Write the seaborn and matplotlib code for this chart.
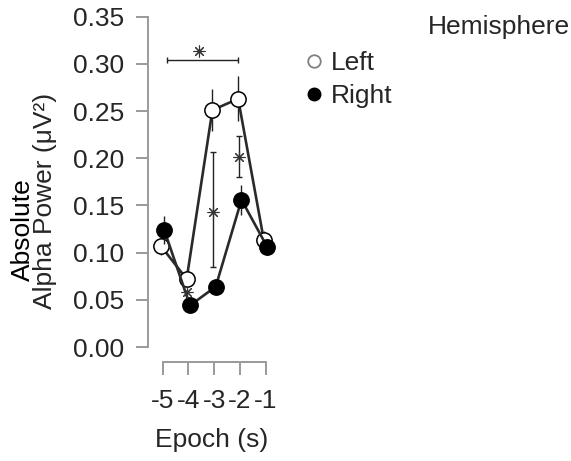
import matplotlib
matplotlib.use("Agg")
import matplotlib.pyplot as plt
from matplotlib.lines import Line2D
import numpy as np
import pandas as pd
import seaborn as sns

# Mean absolute alpha power per epoch and hemisphere, with standard errors
epochs = [-5, -4, -3, -2, -1]
tick_labels = ["-5", "-4", "-3", "-2", "-1"]
left_mean = [0.107, 0.072, 0.251, 0.263, 0.113]
left_err = [0.010, 0.008, 0.022, 0.024, 0.010]
right_mean = [0.124, 0.044, 0.064, 0.156, 0.106]
right_err = [0.015, 0.006, 0.006, 0.016, 0.008]
hemispheres = ["Left", "Right"]

# Significance annotations
h_bracket = (-4.84, -2.08, 0.304)          # x start, x end, y
h_star = (-3.6, 0.314)
v_brackets = [(-3.05, 0.085, 0.207), (-2.04, 0.180, 0.224)]   # x, y low, y high
v_stars = [(-3.05, 0.143), (-2.04, 0.201)]
lone_stars = [(-4.05, 0.058)]

yticks = [0.00, 0.05, 0.10, 0.15, 0.20, 0.25, 0.30, 0.35]

sns.set_theme(style="white")
plt.rcParams["font.family"] = ["Liberation Sans", "DejaVu Sans"]

FS = 19
AX_GRAY = "#9a9a9a"
TXT = "#262626"

df = pd.DataFrame({
    "epoch": epochs * 2,
    "power": left_mean + right_mean,
    "err": left_err + right_err,
    "Hemisphere": ["Left"] * len(epochs) + ["Right"] * len(epochs),
})
offsets = {"Left": -0.07, "Right": 0.06}
df["xpos"] = df["epoch"] + df["Hemisphere"].map(offsets)

fig = plt.figure(figsize=(5.71, 4.61), dpi=100)
ax = fig.add_axes([148 / 571, (461 - 347) / 461, 128 / 571, 330.3 / 461])

styles = {
    "Left": dict(markerfacecolor="white", markeredgecolor="black"),
    "Right": dict(markerfacecolor="black", markeredgecolor="black"),
}

for i, hemi in enumerate(hemispheres):
    sub = df[df["Hemisphere"] == hemi]
    ax.errorbar(sub["xpos"], sub["power"], yerr=sub["err"], fmt="none",
                ecolor="#222222", elinewidth=1.0, capsize=0, zorder=2 + 2 * i)
    sns.lineplot(data=sub, x="xpos", y="power", ax=ax, color="#2a2a2a",
                 linewidth=1.9, marker="o", markersize=11,
                 markeredgewidth=1.1, zorder=3 + 2 * i, clip_on=False,
                 **styles[hemi])

# significance brackets
x0, x1, yb = h_bracket
ax.errorbar((x0 + x1) / 2, yb, xerr=(x1 - x0) / 2, fmt="none", ecolor="#222222",
            elinewidth=1.0, capsize=2.2, capthick=1.0, zorder=6)
ax.plot(*h_star, marker=(8, 2, 0), markersize=8.5, color="#333333",
        markeredgewidth=0.8, zorder=6)
for (xb, ylo, yhi) in v_brackets:
    ax.errorbar(xb, (ylo + yhi) / 2, yerr=(yhi - ylo) / 2, fmt="none",
                ecolor="#222222", elinewidth=1.0, capsize=2.2, capthick=1.0,
                zorder=6)
for (xs, ys) in v_stars + lone_stars:
    ax.plot(xs, ys, marker=(8, 2, 0), markersize=8.5, color="#333333",
            markeredgewidth=0.8, zorder=7)

ax.set_xlim(-5.571, -0.6)
ax.set_ylim(0, 0.35)
ax.set_xticks(epochs)
ax.set_xticklabels(tick_labels)
ax.set_yticks(yticks)
ax.set_yticklabels([f"{v:.2f}" for v in yticks])
ax.set_xlabel("Epoch (s)", fontsize=FS, color=TXT, labelpad=11)
ax.set_ylabel("")

for side in ["top", "right"]:
    ax.spines[side].set_visible(False)
ax.spines["left"].set_bounds(0, 0.35)
ax.spines["bottom"].set_bounds(-5, -1)
ax.spines["bottom"].set_position(("outward", 11))
for side in ["left", "bottom"]:
    ax.spines[side].set_color(AX_GRAY)
    ax.spines[side].set_linewidth(1.4)

ax.tick_params(axis="both", which="major", length=9, width=1.4, color=AX_GRAY,
               labelsize=FS, labelcolor=TXT, direction="out")
ax.tick_params(axis="y", pad=8, left=True)
ax.tick_params(axis="x", pad=10, bottom=True)
ax.grid(False)

# two-line y axis title
fig.text(23 / 571, 1 - 230 / 461, "Absolute", rotation=90, fontsize=FS,
         color="black", ha="center", va="center")
fig.text(45 / 571, 1 - 201 / 461, "Alpha Power (\u03bcV\u00b2)", rotation=90,
         fontsize=FS, color=TXT, ha="center", va="center")

# legend
handles = [
    Line2D([], [], ls="", marker="o", markersize=9, markerfacecolor="white",
           markeredgecolor="#808080", markeredgewidth=1.3),
    Line2D([], [], ls="", marker="o", markersize=9, markerfacecolor="black",
           markeredgecolor="black"),
]
fig.legend(handles, hemispheres, loc="upper left",
           bbox_to_anchor=(301 / 571, 1 - 51 / 461), frameon=False,
           fontsize=FS, handlelength=1.0, handletextpad=0.15,
           labelspacing=0.35, borderpad=0, borderaxespad=0,
           labelcolor=TXT)
fig.text(428 / 571, 1 - 27 / 461, "Hemisphere", fontsize=FS, color=TXT,
         ha="left", va="center")

fig.savefig("out.png", dpi=100, facecolor="white")
